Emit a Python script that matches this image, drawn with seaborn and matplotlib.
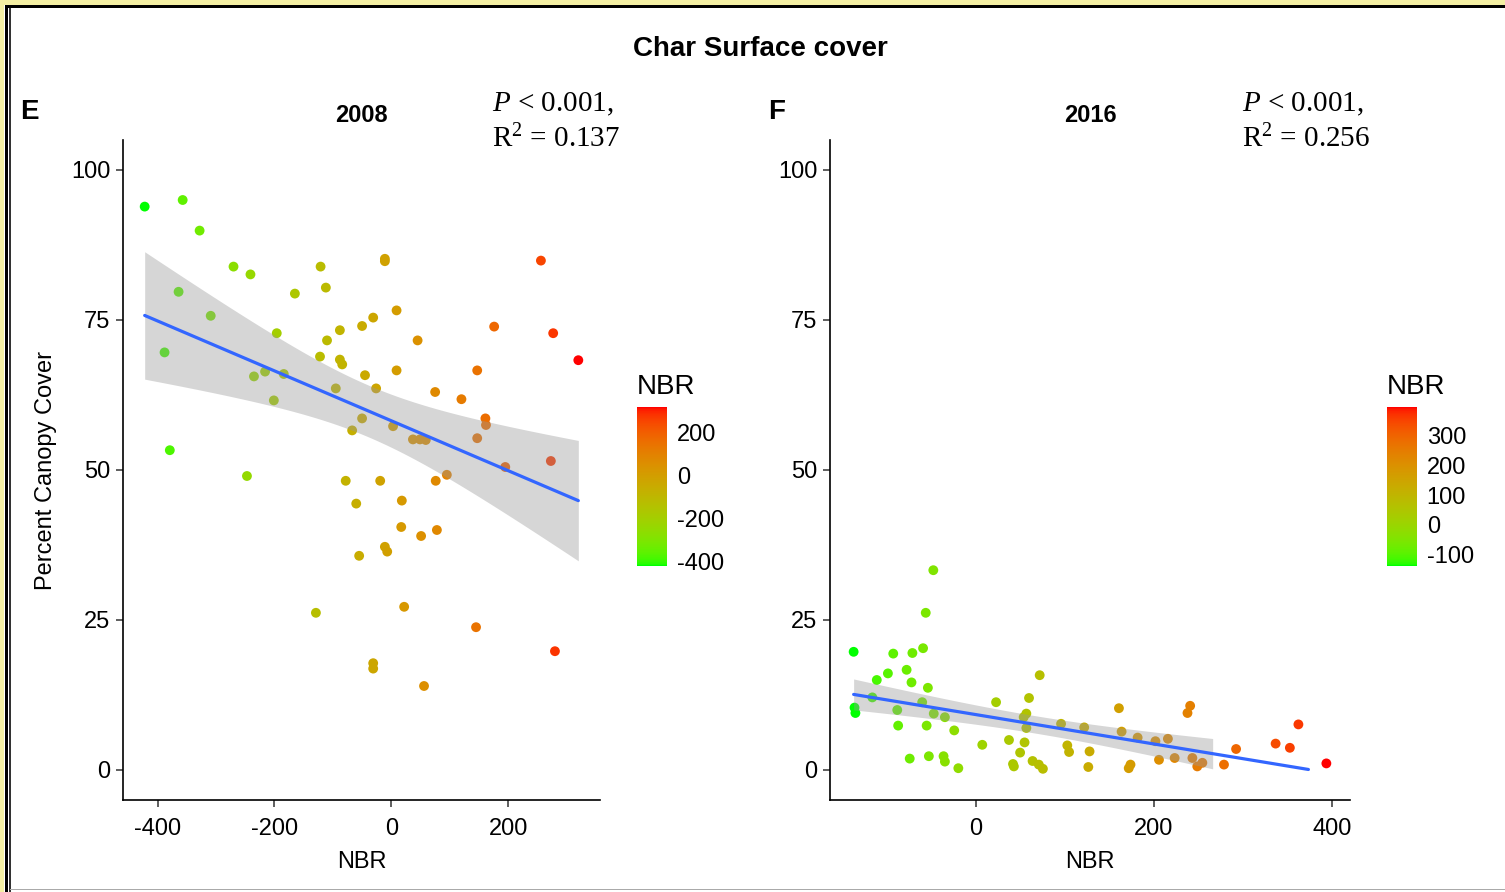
import numpy as np
import pandas as pd
import seaborn as sns
import matplotlib
matplotlib.use("Agg")
import matplotlib.pyplot as plt
from matplotlib.colors import ListedColormap, Normalize
from matplotlib.cm import ScalarMappable
from matplotlib.patches import Rectangle

# ---- data ----
nbr_2008 = [-422, -357, -328, -364, -309, -270, -241, -388, -379, -247,
            -196, -235, -216, -184, -201, -165, -121, -112, -110, -88,
            -88, -84, -122, -95, -50, -31, -11, -11, 9, 45,
            -45, -26, 9, -67, -50, 3, 37, 49, 59, 75,
            120, 147, 176, 161, 162, 147, 95, 76, 195, 273,
            256, 277, 320, -78, -19, -60, 18, 17, 51, 78,
            -11, -7, -55, -129, 22, 145, 280, -31, -31, 56]
cover_2008 = [93.9, 95.0, 89.9, 79.7, 75.7, 83.9, 82.6, 69.6, 53.3, 49.0,
              72.8, 65.6, 66.4, 66.0, 61.6, 79.4, 83.9, 80.4, 71.6, 73.3,
              68.4, 67.6, 68.9, 63.6, 74.0, 75.4, 85.2, 84.8, 76.6, 71.6,
              65.8, 63.6, 66.6, 56.6, 58.6, 57.3, 55.1, 55.1, 55.0, 63.0,
              61.8, 66.6, 73.9, 58.6, 57.5, 55.3, 49.2, 48.2, 50.5, 51.5,
              84.9, 72.8, 68.3, 48.2, 48.2, 44.4, 44.9, 40.5, 39.0, 40.0,
              37.2, 36.4, 35.7, 26.2, 27.2, 23.8, 19.8, 17.8, 16.9, 14.0]

nbr_2016 = [-47.5, -56, -137, -92.5, -71, -59, -98.5, -77.5, -111, -72,
            -53.6, -116, -136, -135, -88, -60, -47, -34.5, -87, -55,
            -24, -74, -52.5, -36, -34.5, -19.4, 7.5, 23, 72, 60,
            57, 54, 57, 37.5, 55, 50, 42, 43, 64, 71,
            75.6, 96, 122, 103, 105, 128, 126.6, 161, 164, 182,
            174, 172, 202, 216, 206, 223.6, 241, 238, 243.5, 249,
            254.7, 279, 292.6, 337, 353, 362.6, 394]
cover_2016 = [33.3, 26.2, 19.7, 19.4, 19.5, 20.3, 16.1, 16.7, 15.0, 14.6,
              13.7, 12.1, 10.4, 9.5, 10.0, 11.3, 9.4, 8.8, 7.4, 7.4,
              6.6, 1.9, 2.3, 2.3, 1.4, 0.3, 4.2, 11.3, 15.8, 12.0,
              9.4, 8.8, 7.0, 5.0, 4.6, 2.9, 1.0, 0.6, 1.5, 0.9,
              0.2, 7.7, 7.1, 4.1, 3.0, 3.1, 0.5, 10.3, 6.4, 5.4,
              0.9, 0.3, 4.8, 5.2, 1.7, 2.0, 10.7, 9.5, 2.0, 0.6,
              1.2, 0.9, 3.5, 4.4, 3.7, 7.6, 1.1]

panels = [
    dict(tag="E", year="2008", x=nbr_2008, y=cover_2008, p="< 0.001,", r2="0.137",
         xticks=[-400, -200, 0, 200], cticks=[-400, -200, 0, 200]),
    dict(tag="F", year="2016", x=nbr_2016, y=cover_2016, p="< 0.001,", r2="0.256",
         xticks=[0, 200, 400], cticks=[-100, 0, 100, 200, 300]),
]

W, H = 1505, 892


# ---- green -> red gradient interpolated in Lab (like ggplot) ----
def srgb_to_lab(rgb):
    c = np.asarray(rgb, float)
    c = np.where(c <= 0.04045, c / 12.92, ((c + 0.055) / 1.055) ** 2.4)
    M = np.array([[0.4124, 0.3576, 0.1805], [0.2126, 0.7152, 0.0722], [0.0193, 0.1192, 0.9505]])
    xyz = M @ c / np.array([0.95047, 1.0, 1.08883])
    f = np.where(xyz > 0.008856, np.cbrt(xyz), 7.787 * xyz + 16 / 116)
    return np.array([116 * f[1] - 16, 500 * (f[0] - f[1]), 200 * (f[1] - f[2])])


def lab_to_srgb(lab):
    L, a, b = lab
    fy = (L + 16) / 116
    fx = fy + a / 500
    fz = fy - b / 200
    f = np.array([fx, fy, fz])
    xyz = np.where(f ** 3 > 0.008856, f ** 3, (f - 16 / 116) / 7.787) * np.array([0.95047, 1.0, 1.08883])
    Minv = np.array([[3.2406, -1.5372, -0.4986], [-0.9689, 1.8758, 0.0415], [0.0557, -0.2040, 1.0570]])
    c = Minv @ xyz
    c = np.where(c <= 0.0031308, 12.92 * c, 1.055 * np.clip(c, 0, None) ** (1 / 2.4) - 0.055)
    return np.clip(c, 0, 1)


lab_lo = srgb_to_lab([0, 1, 0])
lab_hi = srgb_to_lab([1, 0, 0])
cmap = ListedColormap([lab_to_srgb(lab_lo + t * (lab_hi - lab_lo)) for t in np.linspace(0, 1, 256)])


def fit_band(x, y, n=80):
    x = np.asarray(x, float)
    y = np.asarray(y, float)
    b1, b0 = np.polyfit(x, y, 1)
    grid = np.linspace(x.min(), x.max(), n)
    yhat = b0 + b1 * grid
    df = len(x) - 2
    s2 = np.sum((y - (b0 + b1 * x)) ** 2) / df
    se = np.sqrt(s2 * (1 / len(x) + (grid - x.mean()) ** 2 / np.sum((x - x.mean()) ** 2)))
    t = 1.96 + 2.4 / df
    return grid, yhat, yhat - t * se, yhat + t * se


def px(x0, y0, w, h):
    return [x0 / W, 1 - (y0 + h) / H, w / W, h / H]


sns.set_theme(style="ticks")
plt.rcParams["font.family"] = ["Liberation Sans", "DejaVu Sans"]
plt.rcParams["text.color"] = "black"
plt.rcParams["axes.labelcolor"] = "black"
plt.rcParams["mathtext.fontset"] = "custom"
plt.rcParams["mathtext.rm"] = "Liberation Serif"
plt.rcParams["mathtext.it"] = "Liberation Serif:italic"

fig = plt.figure(figsize=(W / 100, H / 100), dpi=100)
fig.patch.set_facecolor("white")

# frame around the figure
for x0, y0, w, h, col in [(0, 0, W, 5, "#F4EFA3"), (0, 0, 4, H, "#F4EFA3"),
                          (5, 5, W, 3, "black"), (5, 5, 2.5, H, "black"),
                          (9, 8, 1.5, H, "#333333"), (10, 888.5, W, 1.5, "#AAAAAA")]:
    fig.add_artist(Rectangle((x0 / W, 1 - (y0 + h) / H), w / W, h / H,
                             transform=fig.transFigure, color=col, lw=0, zorder=10))

fig.text(760 / W, 1 - 49 / H, "Char Surface cover", ha="center", va="center",
         fontsize=20, fontweight="bold")

ax_boxes = [px(123, 140, 477, 660), px(830, 140, 520, 660)]
cax_boxes = [px(637, 407, 30, 159), px(1387, 407, 30, 159)]
tag_x = [20, 768]
year_x = [361, 1090]
ptxt_x = [492, 1242]

for i, (p, box, cbox) in enumerate(zip(panels, ax_boxes, cax_boxes)):
    ax = fig.add_axes(box)
    df = pd.DataFrame({"NBR": p["x"], "cover": p["y"]})
    lo, hi = df["NBR"].min(), df["NBR"].max()
    sns.scatterplot(data=df, x="NBR", y="cover", hue="NBR", palette=cmap, hue_norm=(lo, hi),
                    s=50, linewidth=0, legend=False, ax=ax, zorder=2)

    grid, yhat, ylo, yhi = fit_band(df["NBR"], df["cover"])
    keep_band = (ylo >= 0) & (yhi <= 100)
    keep_line = (yhat >= 0) & (yhat <= 100)
    ax.fill_between(grid[keep_band], ylo[keep_band], yhi[keep_band], color="#999999",
                    alpha=0.4, lw=0, zorder=3)
    sns.lineplot(x=grid[keep_line], y=yhat[keep_line], color="#3366FF", lw=2.3, ax=ax, zorder=4)

    span = hi - lo
    ax.set_xlim(lo - 0.05 * span, hi + 0.05 * span)
    ax.set_ylim(-5, 105)
    ax.set_xticks(p["xticks"])
    ax.set_yticks([0, 25, 50, 75, 100])
    ax.set_xticklabels([str(v) for v in p["xticks"]])
    sns.despine(ax=ax)
    for s in ["left", "bottom"]:
        ax.spines[s].set_linewidth(1.2)
        ax.spines[s].set_color("black")
    ax.tick_params(length=5, width=1.1, color="#333333", labelsize=17, labelcolor="black", pad=4)
    ax.tick_params(axis="x", pad=8)
    ax.set_xlabel("NBR", fontsize=17, labelpad=8)
    if i == 0:
        ax.set_ylabel("Percent Canopy Cover", fontsize=17, labelpad=10)
    else:
        ax.set_ylabel("")

    fig.text(tag_x[i] / W, 1 - 112 / H, p["tag"], ha="left", va="center",
             fontsize=20, fontweight="bold")
    fig.text(year_x[i] / W, 1 - 115 / H, p["year"], ha="center", va="center",
             fontsize=17, fontweight="bold")
    fig.text(ptxt_x[i] / W, 1 - 104 / H, r"$P$ " + p["p"], ha="left", va="center",
             fontsize=21, family="Liberation Serif")
    fig.text(ptxt_x[i] / W, 1 - 139 / H, r"R$^{2}$ = " + p["r2"], ha="left",
             va="center", fontsize=21, family="Liberation Serif")

    # colour bar legend
    cax = fig.add_axes(cbox)
    cb = fig.colorbar(ScalarMappable(norm=Normalize(lo, hi), cmap=cmap), cax=cax, ticks=p["cticks"])
    cb.outline.set_visible(False)
    cax.tick_params(direction="in", length=5, width=1, color="white", left=True, right=True,
                    labelleft=False, labelright=True, labelsize=17, labelcolor="black", pad=7)
    cax.set_yticklabels([str(v) for v in p["cticks"]])
    fig.text(cbox[0], 1 - 387 / H, "NBR", ha="left", va="center", fontsize=20)

fig.savefig("out.png", dpi=100)
